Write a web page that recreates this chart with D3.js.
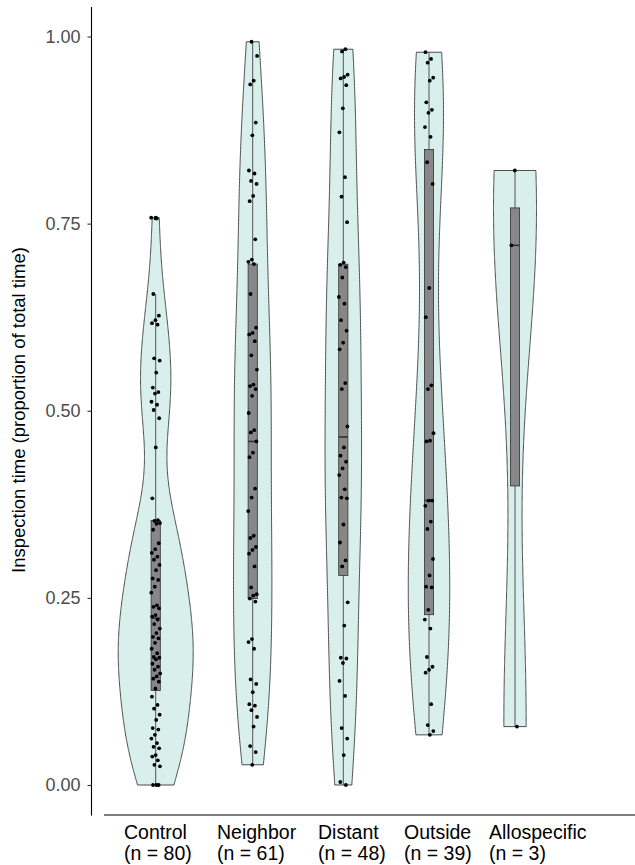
<!DOCTYPE html>
<html>
<head>
<meta charset="utf-8">
<script src="https://cdn.jsdelivr.net/npm/d3@7"></script>
<style>
  body { margin: 0; background: #fff; }
  svg { display: block; }
  text { font-family: "Liberation Sans", Arial, sans-serif; }
</style>
</head>
<body>
<svg id="chart" width="635" height="865"></svg>
<script>
// ---- data -------------------------------------------------------------
const categories = ["Control", "Neighbor", "Distant", "Outside", "Allospecific"];
const countLabels = ["(n = 80)", "(n = 61)", "(n = 48)", "(n = 39)", "(n = 3)"];

const control = [0.758, 0.757, 0.656, 0.627, 0.621, 0.617, 0.615, 0.570, 0.567, 0.551,
  0.531, 0.525, 0.523, 0.512, 0.508, 0.501, 0.490, 0.451, 0.383, 0.354,
  0.353, 0.350, 0.349, 0.341, 0.323, 0.315, 0.310, 0.305, 0.301, 0.294,
  0.287, 0.276, 0.274, 0.265, 0.257, 0.240, 0.238, 0.236, 0.227, 0.225,
  0.221, 0.215, 0.209, 0.203, 0.198, 0.196, 0.190, 0.182, 0.176, 0.171,
  0.170, 0.168, 0.162, 0.158, 0.154, 0.149, 0.145, 0.142, 0.138, 0.129,
  0.118, 0.107, 0.102, 0.094, 0.087, 0.076, 0.074, 0.067, 0.062, 0.056,
  0.051, 0.049, 0.040, 0.038, 0.033, 0.027, 0.025, 0.000, 0.000, 0.000];

const neighbor = [0.993, 0.974, 0.941, 0.936, 0.885, 0.868, 0.821, 0.817, 0.807, 0.803,
  0.787, 0.780, 0.729, 0.702, 0.699, 0.696, 0.656, 0.611, 0.604, 0.602,
  0.593, 0.574, 0.555, 0.535, 0.533, 0.529, 0.520, 0.497, 0.474, 0.471,
  0.459, 0.444, 0.438, 0.396, 0.384, 0.366, 0.333, 0.330, 0.318, 0.314,
  0.309, 0.292, 0.264, 0.255, 0.253, 0.249, 0.245, 0.195, 0.191, 0.182,
  0.141, 0.135, 0.124, 0.108, 0.106, 0.100, 0.091, 0.078, 0.052, 0.044,
  0.027];

const distant = [0.983, 0.980, 0.949, 0.946, 0.944, 0.935, 0.904, 0.872, 0.812, 0.786,
  0.752, 0.698, 0.695, 0.692, 0.678, 0.652, 0.643, 0.621, 0.607, 0.591,
  0.582, 0.537, 0.529, 0.479, 0.451, 0.440, 0.432, 0.423, 0.414, 0.395,
  0.384, 0.383, 0.348, 0.324, 0.300, 0.292, 0.244, 0.213, 0.170, 0.169,
  0.163, 0.139, 0.119, 0.076, 0.062, 0.040, 0.004, 0.000];

const outside = [0.979, 0.970, 0.965, 0.945, 0.941, 0.912, 0.902, 0.898, 0.879, 0.866,
  0.832, 0.803, 0.664, 0.625, 0.534, 0.529, 0.470, 0.460, 0.459, 0.380,
  0.380, 0.373, 0.352, 0.342, 0.302, 0.280, 0.265, 0.264, 0.234, 0.221,
  0.209, 0.171, 0.158, 0.154, 0.150, 0.108, 0.080, 0.072, 0.067];

const allospecific = [0.821, 0.721, 0.078];

const yTicks = [0, 0.25, 0.5, 0.75, 1];
const yTitle = "Inspection time (proportion of total time)";

// ---- layout -----------------------------------------------------------
const groupValues = [control, neighbor, distant, outside, allospecific];
const groupCenters = [155.7, 252.7, 343.3, 429, 515];   // horizontal slot of each group
const labelLeft = [124, 217, 318, 404, 489];             // left edge of each two-line label
const violinHalfMax = 37.5;
const boxHalf = 4.6;
const jitterHalf = 4.5;

const svg = d3.select("#chart");

const y = d3.scaleLinear().domain([0, 1]).range([785, 36.5]);
const x = d3.scaleOrdinal().domain(categories).range(groupCenters);

// ---- kernel density (gaussian, Silverman bandwidth) -------------------
function bwNrd0(v) {
  const s = d3.deviation(v);
  const sorted = v.slice().sort(d3.ascending);
  const q = d3.quantile(sorted, 0.75) - d3.quantile(sorted, 0.25);
  const lo = Math.min(s, q / 1.34);
  return 0.9 * lo * Math.pow(v.length, -0.2);
}
function kde(v, bw, grid) {
  const k = 1 / (Math.sqrt(2 * Math.PI) * bw * v.length);
  return grid.map(t => [t, k * d3.sum(v, d => Math.exp(-0.5 * ((t - d) / bw) ** 2))]);
}

const groups = categories.map((c, i) => {
  const v = groupValues[i];
  const sorted = v.slice().sort(d3.ascending);
  const lo = sorted[0], hi = sorted[sorted.length - 1];
  const grid = d3.range(512).map(j => lo + (hi - lo) * j / 511);
  const dens = kde(v, bwNrd0(v), grid);
  const q1 = d3.quantile(sorted, 0.25), med = d3.quantile(sorted, 0.5), q3 = d3.quantile(sorted, 0.75);
  const iqr = q3 - q1;
  const wLo = d3.min(sorted.filter(d => d >= q1 - 1.5 * iqr));
  const wHi = d3.max(sorted.filter(d => d <= q3 + 1.5 * iqr));
  const outliers = sorted.filter(d => d < wLo || d > wHi);
  return { c, v, dens, q1, med, q3, wLo, wHi, outliers };
});

const maxDens = d3.max(groups, g => d3.max(g.dens, d => d[1]));
const w = d3.scaleLinear().domain([0, maxDens]).range([0, violinHalfMax]);

// ---- axes -------------------------------------------------------------
svg.append("line")
  .attr("x1", 91.5).attr("x2", 91.5).attr("y1", 7).attr("y2", 815.5)
  .attr("stroke", "#000").attr("stroke-width", 1.1);

svg.append("line")
  .attr("x1", 104).attr("x2", 635).attr("y1", 815).attr("y2", 815)
  .attr("stroke", "#555").attr("stroke-width", 1.6);

const yAxis = svg.append("g")
  .attr("transform", "translate(91.5,0)")
  .call(d3.axisLeft(y).tickValues(yTicks).tickFormat(d3.format(".2f")).tickSize(4).tickPadding(7));
yAxis.select(".domain").remove();
yAxis.selectAll(".tick line").attr("stroke", "#333").attr("stroke-width", 1.1);
yAxis.selectAll(".tick text")
  .attr("fill", "#4d4d4d")
  .style("font-size", "18px")
  .style("font-family", "'Liberation Sans', Arial, sans-serif");

svg.append("text")
  .attr("transform", "translate(25,410) rotate(-90)")
  .attr("text-anchor", "middle")
  .attr("fill", "#000")
  .style("font-size", "18.5px")
  .text(yTitle);

// category labels, two lines each
const lab = svg.append("g");
categories.forEach((c, i) => {
  const t = lab.append("text")
    .attr("x", labelLeft[i]).attr("y", 839)
    .attr("fill", "#000").style("font-size", "19.5px");
  t.append("tspan").attr("x", labelLeft[i]).attr("y", 839).text(c);
  t.append("tspan").attr("x", labelLeft[i]).attr("y", 860).text(countLabels[i]);
});

// ---- violins ----------------------------------------------------------
const area = d3.area()
  .x0(d => -w(d[1]))
  .x1(d => w(d[1]))
  .y(d => y(d[0]));

const g = svg.selectAll("g.group").data(groups).join("g")
  .attr("class", "group")
  .attr("transform", d => `translate(${x(d.c)},0)`);

g.append("path")
  .attr("d", d => area(d.dens) + "Z")
  .attr("fill", "#d8efec")
  .attr("stroke", "#222")
  .attr("stroke-width", 0.8);

// ---- box plots --------------------------------------------------------
g.append("line")
  .attr("x1", 0).attr("x2", 0)
  .attr("y1", d => y(d.wHi)).attr("y2", d => y(d.q3))
  .attr("stroke", "#444").attr("stroke-width", 0.9);
g.append("line")
  .attr("x1", 0).attr("x2", 0)
  .attr("y1", d => y(d.q1)).attr("y2", d => y(d.wLo))
  .attr("stroke", "#444").attr("stroke-width", 0.9);
g.append("rect")
  .attr("x", -boxHalf).attr("width", 2 * boxHalf)
  .attr("y", d => y(d.q3)).attr("height", d => y(d.q1) - y(d.q3))
  .attr("fill", "#878787").attr("stroke", "#333").attr("stroke-width", 0.8);
g.append("line")
  .attr("x1", -boxHalf).attr("x2", boxHalf)
  .attr("y1", d => y(d.med)).attr("y2", d => y(d.med))
  .attr("stroke", "#333").attr("stroke-width", 1.6);
g.selectAll("circle.out").data(d => d.outliers).join("circle")
  .attr("class", "out")
  .attr("cx", 0).attr("cy", d => y(d)).attr("r", 1.9)
  .attr("fill", "#000");

// ---- jittered observations -------------------------------------------
// deterministic jitter: golden-ratio sequence spread over the slot
g.selectAll("circle.pt").data((d, gi) => d.v.map((v, i) => ({ v, j: ((i * 0.6180339887 + gi * 0.37) % 1) * 2 - 1 })))
  .join("circle")
  .attr("class", "pt")
  .attr("cx", d => d.j * jitterHalf)
  .attr("cy", d => y(d.v))
  .attr("r", 1.9)
  .attr("fill", "#000");
</script>
</body>
</html>
